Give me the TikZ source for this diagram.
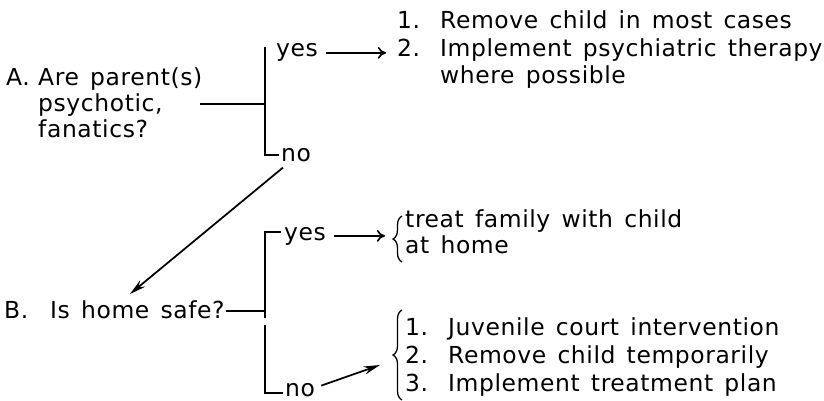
\documentclass[tikz,border=0pt]{standalone}
\usepackage{fontspec}
\setmainfont[LetterSpace=2.5,WordSpace=1.4]{DejaVu Sans}
\usetikzlibrary{arrows.meta,calc,decorations.pathreplacing}

\tikzset{
  txt/.style={anchor=base west, inner sep=0pt, font=\fontsize{20}{23}\selectfont},
  rule/.style={line width=1.8pt},
  yesarrow/.style={line width=1.4pt, -{To[length=7pt,width=10pt]}},
  noarrow/.style={line width=1.5pt, -{Stealth[length=14pt,width=7pt]}},
  curly/.style={line width=1.1pt, decorate, decoration={brace, amplitude=0.27cm}}
}

\begin{document}
\begin{tikzpicture}[x=0.03cm, y=-0.03cm]
		\useasboundingbox (0,0) rectangle (824,401);
		%%%%% START %%%%%
		
		% question A
		\node[txt] (labA) at (6,86) {A.};
		\node[txt] (qA1) at (38,86) {Are parent(s)};
		\node[txt] (qA2) at (38,112) {psychotic,};
		\node[txt] (qA3) at (38,138) {fanatics?};
		\coordinate (lineA) at (200,104);
		\coordinate (brA) at (265,104);
		\draw[rule] (lineA) -- (brA);
		\draw[rule] (265,47) -- (265,155) -- (279,155);
		
		\node[txt] (yesA) at (276,57) {yes};
		\node[txt] (noA) at (281,162) {no};
		
		% answer A (yes)
		\node[txt] (numA1) at (397,29) {1.};
		\node[txt] (remA1) at (440,29) {Remove child in most cases};
		\node[txt] (numA2) at (397,57) {2.};
		\node[txt] (remA2) at (440,57) {Implement psychiatric therapy};
		\node[txt] (remA3) at (440,84) {where possible};
		\coordinate (yesAstart) at ($(yesA.east)+(8,0)$);
		\coordinate (yesAend) at (386,0);
		\draw[yesarrow] (yesAstart) -- (yesAstart -| yesAend);
		
		% no -> question B
		\coordinate (homeTop) at (130,294);
		\draw[noarrow] ($(noA.south west)+(2,5)$) -- (homeTop);
		
		% question B
		\node[txt] (labB) at (4,318) {B.};
		\node[txt] (qB) at (50,318) {Is home safe?};
		\draw[rule] (226,311) -- (265,311);
		\draw[rule] (281,232) -- (265,232) -- (265,318);
		\draw[rule] (265,325) -- (265,393) -- (283,393);
		
		\node[txt] (yesB) at (284,240) {yes};
		\node[txt] (noB) at (285,396) {no};
		
		% answer B (yes)
		\draw[curly] (402,262) -- (402,216);
		\node[txt] (remB1) at (405,227) {treat family with child};
		\node[txt] (remB2) at (405,253) {at home};
		\coordinate (yesBstart) at ($(yesB.east)+(8,0)$);
		\coordinate (yesBend) at (385,0);
		\draw[yesarrow] (yesBstart) -- (yesBstart -| yesBend);
		
		% answer B (no)
		\draw[curly] (402,400) -- (402,310);
		\node[txt] (numB1) at (405,335) {1.};
		\node[txt] (jvB1) at (448,335) {Juvenile court intervention};
		\node[txt] (numB2) at (405,363) {2.};
		\node[txt] (jvB2) at (448,363) {Remove child temporarily};
		\node[txt] (numB3) at (405,391) {3.};
		\node[txt] (jvB3) at (448,391) {Implement treatment plan};
		\coordinate (noBend) at (380,365);
		\draw[noarrow] ($(noB.east)+(6,-4)$) -- (noBend);
		
		%%%%% END %%%%%
	\end{tikzpicture}
\end{document}
